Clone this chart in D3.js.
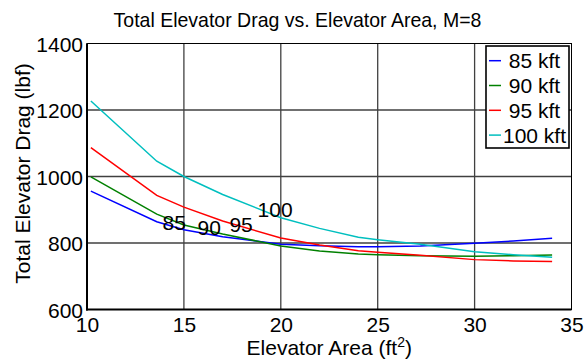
<!DOCTYPE html>
<html><head><meta charset="utf-8">
<script src="https://cdn.jsdelivr.net/npm/d3@7"></script>
<style>
html,body{margin:0;padding:0;background:#fff;}
text{font-family:"Liberation Sans",Arial,Helvetica,sans-serif;fill:#000;}
</style></head>
<body><svg id="c" width="584" height="364"></svg>
<script>
const area = [10.2, 13.6, 15, 17, 20, 22, 24, 25, 27.2, 30, 32, 34];
const drag85  = [956, 864, 840, 819, 796, 792, 789, 789, 791, 799, 806, 814];
const drag90  = [999, 887, 854, 827, 791, 776, 767, 765, 762, 760, 762, 764];
const drag95  = [1087, 943, 908, 866, 815, 794, 777, 772, 763, 750, 746, 744];
const drag100 = [1227, 1046, 1000, 946, 876, 844, 817, 810, 796, 774, 765, 757];
const seriesNames = [" 85 kft", " 90 kft", " 95 kft", "100 kft"];
const seriesColors = ["#0000ff", "#008000", "#ff0000", "#00bfbf"];
const xTicks = [10, 15, 20, 25, 30, 35];
const yTicks = [600, 800, 1000, 1200, 1400];
const curveLabels = ["85", "90", "95", "100"];
const labelX = [13.9, 15.7, 17.35, 18.8];
const labelY = [839, 824, 834, 879];

const svg = d3.select("#c");
const L = 87, R = 571.5, T = 43.5, B = 309.5;
const x = d3.scaleLinear().domain([10, 35]).range([L, R]);
const y = d3.scaleLinear().domain([600, 1400]).range([B, T]);
const FF = '"Liberation Sans",Arial,sans-serif';

// grid
const g = svg.append("g");
g.selectAll(".gx").data(xTicks.slice(1, -1)).enter().append("line")
  .attr("x1", d => x(d)).attr("x2", d => x(d)).attr("y1", T).attr("y2", B)
  .attr("stroke", "#404040").attr("stroke-width", 1.3);
g.selectAll(".gy").data(yTicks.slice(1, -1)).enter().append("line")
  .attr("y1", d => y(d)).attr("y2", d => y(d)).attr("x1", L).attr("x2", R)
  .attr("stroke", "#404040").attr("stroke-width", 1.3);

// series
const all = [drag85, drag90, drag95, drag100];
const line = d3.line().x(d => x(d[0])).y(d => y(d[1]));
all.forEach((vals, i) => {
  svg.append("path").datum(area.map((a, j) => [a, vals[j]]))
    .attr("d", line).attr("fill", "none")
    .attr("stroke", seriesColors[i]).attr("stroke-width", 1.5);
});

// box
svg.append("rect").attr("x", L).attr("y", T).attr("width", R - L).attr("height", B - T)
  .attr("fill", "none").attr("stroke", "#000").attr("stroke-width", 1);
svg.append("line").attr("x1", L).attr("x2", L).attr("y1", T).attr("y2", B + 1)
  .attr("stroke", "#000").attr("stroke-width", 2);
svg.append("line").attr("x1", L - 1).attr("x2", R).attr("y1", B).attr("y2", B)
  .attr("stroke", "#000").attr("stroke-width", 2);

// axes tick labels
const xa = svg.append("g").attr("transform", `translate(0,${B})`)
  .call(d3.axisBottom(x).tickValues(xTicks).tickSize(0).tickPadding(0).tickFormat(d3.format("d")));
xa.select(".domain").remove();
xa.selectAll("text").attr("font-size", 21).attr("dy", null).attr("y", 22.5)
  .style("font-family", FF).attr("fill", "#000");
const ya = svg.append("g").attr("transform", `translate(${L},0)`)
  .call(d3.axisLeft(y).tickValues(yTicks).tickSize(0).tickPadding(0).tickFormat(d3.format("d")));
ya.select(".domain").remove();
ya.selectAll("text").attr("font-size", 21).attr("x", -4).attr("dy", "0.36em")
  .style("font-family", FF).attr("fill", "#000");

// curve labels
svg.selectAll(".cl").data(curveLabels).enter().append("text")
  .attr("x", (d, i) => x(labelX[i])).attr("y", (d, i) => y(labelY[i]))
  .attr("font-size", 21).text(d => d);

// title
svg.append("text").attr("transform", "translate(297.5,27) scale(1,1.07)").attr("text-anchor", "middle")
  .attr("font-size", 19.5).text("Total Elevator Drag vs. Elevator Area, M=8");

// x label
const xl = svg.append("text").attr("x", (L + R) / 2).attr("y", 355).attr("text-anchor", "middle")
  .attr("font-size", 21);
xl.append("tspan").text("Elevator Area (ft");
xl.append("tspan").attr("dy", -8).attr("font-size", 14).text("2");
xl.append("tspan").attr("dy", 8).text(")");

// y label
svg.append("text").attr("transform", `translate(30,${(T + B) / 2 - 3}) rotate(-90)`)
  .attr("text-anchor", "middle").attr("font-size", 21).text("Total Elevator Drag (lbf)");

// legend
const lg = svg.append("g");
lg.append("rect").attr("x", 486).attr("y", 46).attr("width", 83).attr("height", 102)
  .attr("fill", "#fff").attr("stroke", "#000").attr("stroke-width", 1.6);
seriesNames.forEach((n, i) => {
  const yy = 60.7 + i * 24.8;
  lg.append("line").attr("x1", 489).attr("x2", 501).attr("y1", yy).attr("y2", yy)
    .attr("stroke", seriesColors[i]).attr("stroke-width", 1.5);
  lg.append("text").attr("x", 503).attr("y", yy + 7.5).attr("font-size", 21)
    .style("white-space", "pre").attr("xml:space", "preserve").text(n);
});
</script></body></html>
